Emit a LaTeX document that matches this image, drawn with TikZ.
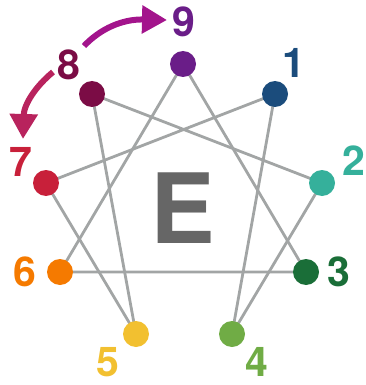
\documentclass[tikz,border=0pt]{standalone}
\usepackage{fontspec}
\setmainfont{TeX Gyre Heros}
\usetikzlibrary{arrows.meta}
\definecolor{c9}{HTML}{6A1D88}
\definecolor{c8}{HTML}{7B0C45}
\definecolor{c7}{HTML}{C8203A}
\definecolor{c6}{HTML}{F57A00}
\definecolor{c5}{HTML}{F2C030}
\definecolor{c4}{HTML}{70AC45}
\definecolor{c3}{HTML}{1A6E38}
\definecolor{c2}{HTML}{35B09B}
\definecolor{c1}{HTML}{1B4C7C}
\definecolor{linegray}{HTML}{A2A5A5}
\definecolor{egray}{HTML}{666666}
\definecolor{arrA}{HTML}{A3148C}
\definecolor{arrB}{HTML}{B8235D}
\tikzset{
  dot/.style={circle,fill=#1,minimum size=26pt,inner sep=0pt},
  num/.style={text=#1,font=\fontsize{41}{41}\selectfont\bfseries,inner sep=0pt,anchor=center},
  conn/.style={draw=linegray,line width=2.8pt},
  curv/.style={line width=6pt,draw=#1,-{Triangle[length=25pt,width=27pt]}}
}
\begin{document}
\begin{tikzpicture}[x=1pt,y=-1pt]
\useasboundingbox (0,0) rectangle (365,385);
\node[text=egray,font=\fontsize{97}{97}\selectfont\bfseries,inner sep=0pt] (E) at (182.5,208) {E};
% dots
\coordinate (p9) at (183,64);
\coordinate (p1) at (275,94);
\coordinate (p2) at (322,183);
\coordinate (p3) at (306,272);
\coordinate (p4) at (232,334);
\coordinate (p5) at (136,334);
\coordinate (p6) at (60,272);
\coordinate (p7) at (46,183);
\coordinate (p8) at (92,94);
\draw[conn] (p9) -- (p3) -- (p6) -- cycle;
\draw[conn] (p1) -- (p4) -- (p2) -- (p8) -- (p5) -- (p7) -- cycle;
\foreach \i in {1,...,9} {\node[dot=c\i] (d\i) at (p\i) {};}
% labels
\node[num=c9] (l9) at (184,22) {9};
\node[num=c8] (l8) at (69,65) {8};
\node[num=c7] (l7) at (21,162) {7};
\node[num=c6] (l6) at (25,272) {6};
\node[num=c5] (l5) at (108,362) {5};
\node[num=c4] (l4) at (257,362) {4};
\node[num=c3] (l3) at (339,272) {3};
\node[num=c2] (l2) at (354,161) {2};
\node[num=c1] (l1) at (294,63) {1};
% arrows
\coordinate (a1s) at (84,46);
\coordinate (a1e) at (167,20);
\coordinate (a2s) at (53,72);
\coordinate (a2e) at (23,139);
\draw[curv=arrA] (a1s) .. controls (100,29) and (122,19) .. (a1e);
\draw[curv=arrB] (a2s) .. controls (36,86) and (24,104) .. (a2e);
\end{tikzpicture}
\end{document}
